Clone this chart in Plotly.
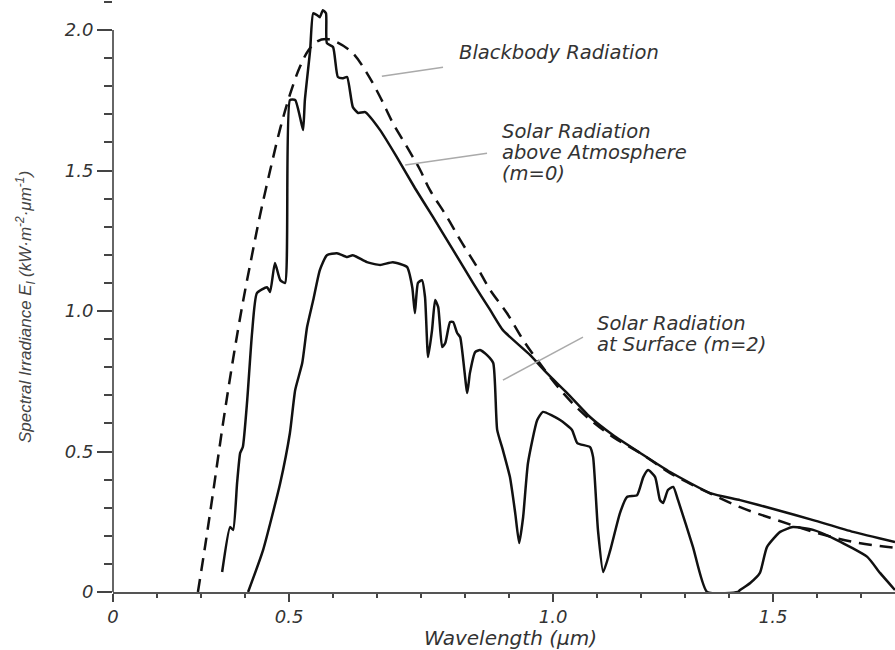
import plotly.graph_objects as go

# x values are positions on the drawn wavelength axis (tick labels mapped below)
bb_x = [0.193, 0.21, 0.227, 0.25, 0.273, 0.295, 0.316, 0.334, 0.357, 0.38, 0.402, 0.425, 0.445,
        0.464, 0.486, 0.509, 0.545, 0.577, 0.607, 0.636, 0.668, 0.698, 0.72, 0.759, 0.789, 0.827,
        0.857, 0.895, 0.932, 0.964, 1.023, 1.077, 1.136, 1.198, 1.266, 1.341, 1.425, 1.509, 1.591,
        1.682, 1.777]
bb_y = [0.0, 0.17, 0.35, 0.6, 0.83, 1.03, 1.2, 1.34, 1.5, 1.65, 1.77, 1.87, 1.93,
        1.96, 1.968, 1.957, 1.918, 1.847, 1.762, 1.669, 1.584, 1.502, 1.431, 1.335, 1.253, 1.157,
        1.075, 0.993, 0.897, 0.826, 0.708, 0.623, 0.552, 0.495, 0.423, 0.363, 0.302, 0.256, 0.214,
        0.178, 0.157]

m0_x = [0.248, 0.266, 0.273, 0.282, 0.289, 0.295, 0.305, 0.316, 0.327, 0.35, 0.357, 0.368, 0.38,
        0.391, 0.402, 0.414, 0.425, 0.432, 0.436, 0.448, 0.455, 0.464, 0.47, 0.477, 0.484, 0.486,
        0.5, 0.511, 0.523, 0.532, 0.545, 0.557, 0.573, 0.607, 0.645, 0.686, 0.727, 0.773, 0.818,
        0.857, 0.886, 0.948, 0.986, 1.032, 1.084, 1.136, 1.198, 1.266, 1.357, 1.425, 1.509, 1.591,
        1.682, 1.777]
m0_y = [0.071, 0.231, 0.221, 0.388, 0.495, 0.516, 0.683, 0.922, 1.064, 1.085, 1.068, 1.171, 1.11,
        1.1, 1.751, 1.751, 1.69, 1.644, 1.751, 1.929, 2.06, 2.053, 2.046, 2.071, 2.06, 1.954,
        1.94, 1.833, 1.829, 1.833, 1.726, 1.705, 1.708, 1.644, 1.548, 1.438, 1.335, 1.217, 1.1,
        1.004, 0.932, 0.843, 0.779, 0.708, 0.623, 0.559, 0.495, 0.427, 0.352, 0.327, 0.292, 0.256,
        0.214, 0.178]

m2_x = [0.307, 0.341, 0.38, 0.402, 0.414, 0.43, 0.441, 0.455, 0.47, 0.486, 0.509, 0.532, 0.545,
        0.577, 0.607, 0.636, 0.668, 0.68, 0.686, 0.693, 0.702, 0.709, 0.716, 0.725, 0.732, 0.739,
        0.748, 0.755, 0.766, 0.773, 0.782, 0.789, 0.805, 0.811, 0.823, 0.834, 0.85, 0.864, 0.873,
        0.886, 0.902, 0.914, 0.923, 0.932, 0.943, 0.964, 0.977, 1.016, 1.043, 1.055, 1.084, 1.091,
        1.102, 1.114, 1.13, 1.152, 1.168, 1.191, 1.205, 1.216, 1.232, 1.243, 1.25, 1.261, 1.273,
        1.284, 1.318, 1.35, 1.42, 1.425, 1.448, 1.47, 1.486, 1.516, 1.545, 1.591, 1.645, 1.714,
        1.743, 1.777]
m2_y = [0.0, 0.149, 0.388, 0.566, 0.719, 0.815, 0.943, 1.039, 1.146, 1.199, 1.206, 1.192, 1.199,
        1.174, 1.164, 1.174, 1.157, 1.085, 0.993, 1.1, 1.11, 1.05, 0.836, 0.932, 1.039, 1.014,
        0.872, 0.886, 0.961, 0.961, 0.922, 0.907, 0.708, 0.779, 0.854, 0.861, 0.843, 0.815, 0.577,
        0.505, 0.409, 0.281, 0.174, 0.267, 0.459, 0.612, 0.641, 0.612, 0.577, 0.53, 0.516, 0.48,
        0.221, 0.071, 0.149, 0.281, 0.338, 0.345, 0.409, 0.434, 0.409, 0.327, 0.317, 0.363, 0.374,
        0.327, 0.16, 0.0, 0.0, 0.007, 0.032, 0.068, 0.16, 0.214, 0.231, 0.221, 0.185, 0.125,
        0.068, 0.007]

x_tickvals = [0, 0.4, 1.0, 1.5]
x_ticktext = ["0", "0.5", "1.0", "1.5"]
y_tickvals = [0, 0.5, 1.0, 1.5, 2.0]
y_ticktext = ["0", "0.5", "1.0", "1.5", "2.0"]

labels = [
    ("Blackbody Radiation", 0.782, 1.922),
    ("Solar Radiation", 0.88, 1.639),
    ("above Atmosphere", 0.88, 1.564),
    ("(m=0)", 0.88, 1.489),
    ("Solar Radiation", 1.095, 0.956),
    ("at Surface (m=2)", 1.095, 0.881),
]
leaders = [
    (0.611, 1.836, 0.75, 1.868),
    (0.664, 1.52, 0.85, 1.562),
    (0.886, 0.754, 1.068, 0.907),
]

fig = go.Figure()
fig.add_trace(go.Scatter(x=bb_x, y=bb_y, mode="lines",
                         line=dict(color="#111", width=2.5, dash="13px,8px", shape="spline", smoothing=1.0),
                         showlegend=False, hoverinfo="skip"))
fig.add_trace(go.Scatter(x=m0_x, y=m0_y, mode="lines",
                         line=dict(color="#111", width=2.5, shape="spline", smoothing=0.5),
                         showlegend=False, hoverinfo="skip"))
fig.add_trace(go.Scatter(x=m2_x, y=m2_y, mode="lines",
                         line=dict(color="#111", width=2.5, shape="spline", smoothing=0.5),
                         showlegend=False, hoverinfo="skip"))

for x0, y0, x1, y1 in leaders:
    fig.add_shape(type="line", x0=x0, y0=y0, x1=x1, y1=y1, xref="x", yref="y",
                  line=dict(color="#aaaaaa", width=1.5))

# y axis line only up to 2.0
fig.add_shape(type="line", xref="paper", yref="y", x0=0, x1=0, y0=0, y1=2.0,
              line=dict(color="#333", width=1.5))

txtfont = dict(family="DejaVu Sans", size=19.5, color="#333", style="italic")
for t, x, y in labels:
    fig.add_annotation(x=x, y=y, xref="x", yref="y", text=t, showarrow=False,
                       xanchor="left", yanchor="middle", font=txtfont)

fig.add_annotation(xref="paper", yref="paper", x=0.508, y=-0.078, text="Wavelength (μm)",
                   showarrow=False, xanchor="center", yanchor="middle",
                   font=dict(family="DejaVu Sans", size=20, color="#333", style="italic"))
fig.add_annotation(xref="paper", yref="paper", x=-0.1125, y=0.483,
                   text="Spectral Irradiance E<sub>l</sub> (kW·m<sup>-2</sup>·μm<sup>-1</sup>)",
                   textangle=-90, showarrow=False, xanchor="center", yanchor="middle",
                   font=dict(family="Liberation Sans Narrow, Liberation Sans", size=17, color="#444",
                             style="italic"))

tickfont = dict(family="DejaVu Sans", size=18, color="#333", style="italic")
fig.update_xaxes(range=[0, 1.777], showline=True, linecolor="#555", linewidth=1.5,
                 showgrid=False, zeroline=False, tickmode="array", tickvals=x_tickvals,
                 ticktext=["<i>%s</i>" % t for t in x_ticktext], ticks="outside", ticklen=8,
                 tickwidth=1.5, tickcolor="#444", tickfont=tickfont,
                 minor=dict(tick0=0, dtick=0.1, ticks="outside", ticklen=4, tickwidth=1.5,
                            tickcolor="#444", showgrid=False))
fig.update_yaxes(range=[0, 2.1], showline=False, showgrid=False, zeroline=False,
                 tickmode="array", tickvals=y_tickvals,
                 ticktext=["<i>%s</i>" % t for t in y_ticktext],
                 ticks="outside", ticklen=15, tickwidth=1.5, tickcolor="#444", tickfont=tickfont,
                 minor=dict(tick0=0, dtick=0.1, ticks="outside", ticklen=8, tickwidth=1.5,
                            tickcolor="#444", showgrid=False))

fig.update_layout(width=895, height=650, margin=dict(l=113, r=0, t=2, b=58),
                  paper_bgcolor="white", plot_bgcolor="white")

fig.write_html("out.html")
